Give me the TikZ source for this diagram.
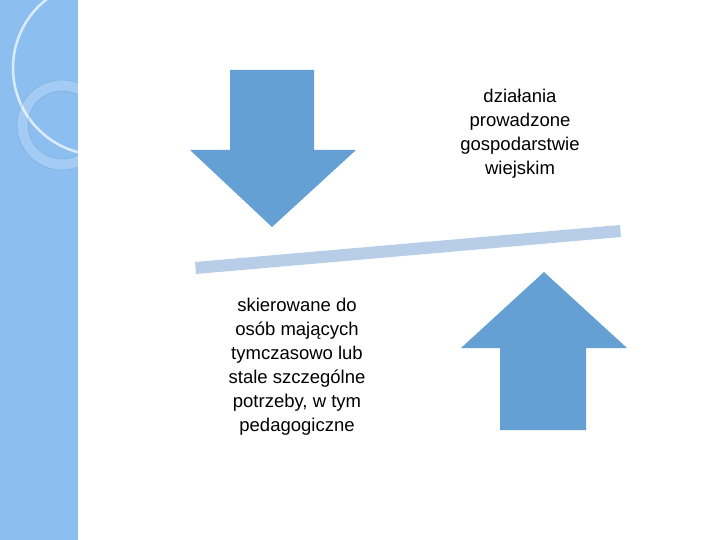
\documentclass[tikz,border=0pt]{standalone}
\usepackage{fontspec}
\setmainfont{Liberation Sans}
\usepackage{tikz}
\definecolor{stripblue}{RGB}{140,190,240}
\definecolor{arrowblue}{RGB}{100,160,212}
\definecolor{barblue}{RGB}{184,206,232}
\tikzset{arrowshape/.style={fill=arrowblue, draw=none},
  label/.style={align=center, font=\fontsize{18.5}{24}\selectfont}}
\begin{document}
\begin{tikzpicture}[x=1pt,y=-1pt]
\useasboundingbox (0,0) rectangle (720,540);
\fill[white] (0,0) rectangle (720,540);
% left strip
\begin{scope}
\clip (0,0) rectangle (78,540);
\fill[stripblue] (0,0) rectangle (78,540);
\fill[white,opacity=0.35] (0,0) -- (63,0) arc[start angle=0,end angle=-90,radius=63] -- cycle;
\draw[white,opacity=0.7,line width=2.5pt] (100,68) circle[radius=87];
\fill[white,opacity=0.2,even odd rule] (62,125) circle[radius=45] (62,125) circle[radius=34];
\draw[arrowblue,opacity=0.7,thin] (62,125) circle[radius=45] (62,125) circle[radius=34];
\end{scope}
% arrows
\fill[arrowshape] (230,70) -- (314,70) -- (314,150) -- (356,150) -- (272,227) -- (190,150) -- (230,150) -- cycle;
\fill[arrowshape] (500,430) -- (586,430) -- (586,348) -- (627,348) -- (544,272) -- (461,348) -- (500,348) -- cycle;
% bar
\fill[barblue] (195,262) -- (620,225) -- (621,237) -- (196,274) -- cycle;
% texts
\node[label] (top) at (520,134) {działania\\prowadzone\\gospodarstwie\\wiejskim};
\node[label] (bottom) at (297,367) {skierowane do\\osób mających\\tymczasowo lub\\stale szczególne\\potrzeby, w tym\\pedagogiczne};
\end{tikzpicture}
\end{document}
